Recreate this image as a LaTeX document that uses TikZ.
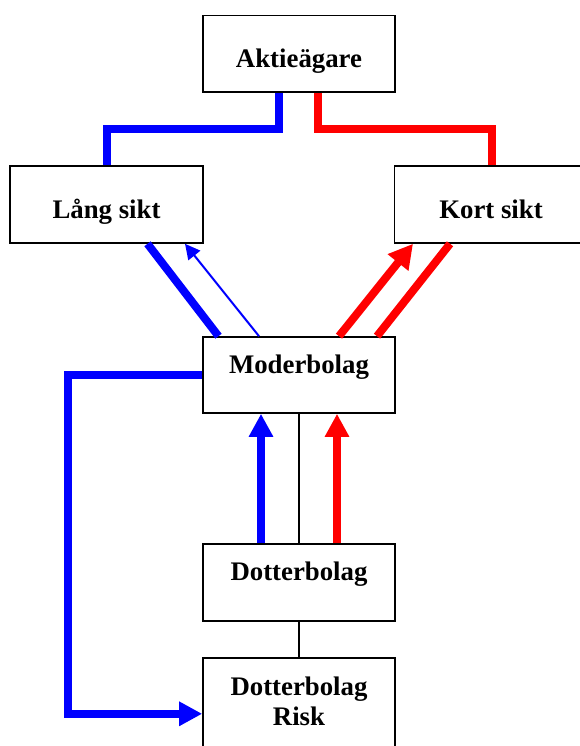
\documentclass[tikz,border=0pt]{standalone}
\usepackage{fontspec}
\setmainfont{Liberation Serif}
\usetikzlibrary{arrows.meta}
\definecolor{myblue}{RGB}{0,0,255}
\definecolor{myred}{RGB}{255,0,0}
\begin{document}
\begin{tikzpicture}[x=1pt,y=-1pt,
  box/.style={draw=black, line width=1.6pt, minimum width=192pt, inner sep=0pt,
    font=\bfseries\fontsize{26.8}{30}\selectfont, anchor=base},
  frame/.style={draw=black, line width=1.6pt, minimum width=192pt, inner sep=0pt},
  lbl/.style={inner sep=0pt, align=center, font=\bfseries\fontsize{26.8}{30}\selectfont},
  thickblue/.style={draw=myblue, line width=8pt},
  thickred/.style={draw=myred, line width=8pt},
  bigtip/.style={-{Triangle[width=23pt,length=23pt]}},
  thin/.style={draw=black, line width=1.3pt}
]
\useasboundingbox (0,0) rectangle (579,746);

\node[box, text height=52.5pt, text depth=24pt] (akt) at (299,68) {Aktieägare};
\node[box, text height=52pt, text depth=25pt, minimum width=193pt] (lang) at (106.5,218) {Lång sikt};
\node[box, text height=52pt, text depth=25pt, minimum width=193pt] (kort) at (491,218) {Kort sikt};
\node[box, text height=36pt, text depth=40pt] (moder) at (299,373) {Moderbolag};
\node[box, text height=36pt, text depth=41pt] (dotter) at (299,580) {Dotterbolag};
\node[frame, minimum height=92pt, anchor=north] (risk) at (299,657) {};
\node[lbl, anchor=north] (risklbl) at (299,677) {Dotterbolag\\Risk};

% Aktieägare to Lång / Kort sikt
\draw[thickblue] ([xshift=-20pt]akt.south) -- ++(0,36) -| (lang.north);
\draw[thickred] ([xshift=19pt]akt.south) -- ++(0,36) -| ([xshift=1pt]kort.north);

% Lång sikt <-> Moderbolag
\draw[thickblue] ([xshift=41pt]lang.south) -- ([xshift=-80.5pt]moder.north);
\draw[draw=myblue, line width=2pt, -{Triangle[width=15pt,length=15pt]}]
  ([xshift=-40pt]moder.north) -- ([xshift=78.5pt]lang.south);

% Kort sikt <-> Moderbolag
\draw[thickred, -{Triangle[width=25pt,length=24pt]}]
  ([xshift=40pt]moder.north) -- ([xshift=-78pt]kort.south);
\draw[thickred] ([xshift=-41pt]kort.south) -- ([xshift=78pt]moder.north);

% Dotterbolag -> Moderbolag
\draw[thin] (dotter.north) -- (moder.south);
\draw[thickblue, bigtip] ([xshift=-38pt]dotter.north) -- ([xshift=-38pt]moder.south);
\draw[thickred, bigtip] ([xshift=38pt]dotter.north) -- ([xshift=38pt]moder.south);

% Dotterbolag - Risk
\draw[thin] (dotter.south) -- (risk.north);

% Moderbolag -> Risk
\draw[thickblue, bigtip] (moder.west) -- ++(-134,0) |- ([yshift=-10pt]risk.west);
\end{tikzpicture}
\end{document}
